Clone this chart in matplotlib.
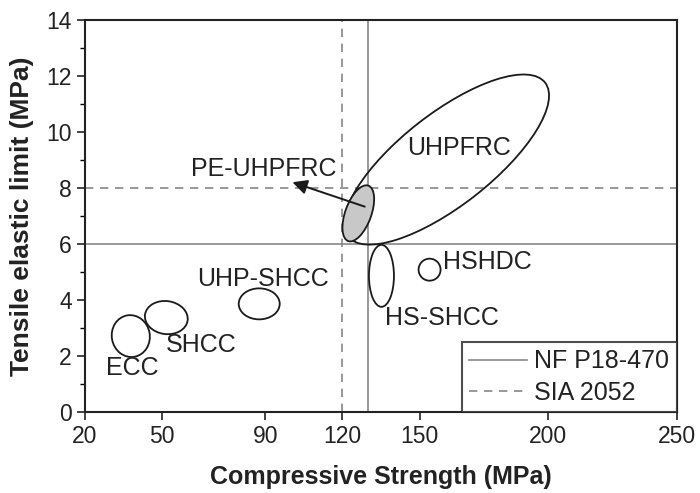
import numpy as np
import matplotlib.pyplot as plt
from matplotlib.patches import Ellipse
from matplotlib.transforms import ScaledTranslation

plt.rcParams['font.family'] = ['Liberation Sans', 'DejaVu Sans']

# material groups: centre of each region (compressive MPa, tensile MPa)
groups = ['UHPFRC', 'PE-UHPFRC', 'HS-SHCC', 'HSHDC', 'UHP-SHCC', 'SHCC', 'ECC']
comp = [160.5, 126.2, 135.2, 153.9, 87.7, 51.6, 37.8]
tens = [9.02, 7.10, 4.87, 5.09, 3.87, 3.38, 2.72]

# label positions for each group
label_x = [165.2, 89.5, 158.6, 159.1, 89.3, 65.0, 38.2]
label_y = [9.45, 8.69, 3.37, 5.35, 4.76, 2.40, 1.58]

# code limits
nf_limit_x, nf_limit_y = 130, 6
sia_limit_x, sia_limit_y = 120, 8

xticks = [20, 50, 90, 120, 150, 200, 250]

# ellipse drawing sizes (px) and angle
ell_w = [250, 59, 25, 22, 41, 43, 38]
ell_h = [92, 26, 62, 22, 31, 33, 42]
ell_ang = [38, 70, 0, 0, 0, -8, 10]
ell_fill = ['none', '#c8c8c8', 'none', 'none', 'none', 'none', 'none']

fig = plt.figure(figsize=(7, 4.93), dpi=100)
ax = fig.add_axes([0.1214, 0.1637, 0.967 - 0.1214, 0.9594 - 0.1637])

ax.axvline(nf_limit_x, color='#888888', lw=1.2, zorder=1, label='NF P18-470')
ax.axhline(nf_limit_y, color='#888888', lw=1.2, zorder=1)
ax.axvline(sia_limit_x, color='#888888', lw=1.2, ls=(0, (5, 4)), zorder=1, label='SIA 2052')
ax.axhline(sia_limit_y, color='#888888', lw=1.2, ls=(0, (5, 4)), zorder=1)

for i in range(len(groups)):
    tr = fig.dpi_scale_trans + ScaledTranslation(comp[i], tens[i], ax.transData)
    e = Ellipse((0, 0), ell_w[i] / 100, ell_h[i] / 100, angle=ell_ang[i],
                transform=tr, facecolor=ell_fill[i], edgecolor='#1a1a1a',
                lw=1.3, zorder=3 if i else 2)
    ax.add_patch(e)
    ha = 'left' if groups[i] == 'HSHDC' else 'center'
    ax.text(label_x[i], label_y[i], groups[i], fontsize=18, color='#222222',
            ha=ha, va='center', zorder=4)

# arrow from PE-UHPFRC region to its label
ax.annotate('', xy=(100.6, 8.21), xytext=(128.7, 7.34),
            arrowprops=dict(arrowstyle='-|>', color='#1a1a1a', lw=1.4,
                            mutation_scale=22, shrinkA=0, shrinkB=0), zorder=5)

ax.set_xlim(20, 250)
ax.set_ylim(0, 14)
ax.set_xticks(xticks)
ax.set_yticks(np.arange(0, 15, 2))
ax.set_yticks(np.arange(1, 14, 2), minor=True)
ax.tick_params(axis='both', which='major', labelsize=16.5, length=6, width=1.2,
               direction='out', colors='#222222')
ax.tick_params(axis='y', which='minor', length=3.5, width=1.0, direction='out')
for s in ax.spines.values():
    s.set_linewidth(1.5)
    s.set_color('#222222')

ax.set_xlabel('Compressive Strength (MPa)', fontsize=18, fontweight='bold',
              labelpad=12, color='#222222')
ax.set_ylabel('Tensile elastic limit (MPa)', fontsize=19, fontweight='bold',
              labelpad=9, color='#222222')

leg = ax.legend(loc='lower right', fontsize=18, frameon=True, fancybox=False,
                edgecolor='#222222', borderaxespad=0, handlelength=2.3,
                handletextpad=0.3, labelspacing=0.3, borderpad=0.3)
leg.get_frame().set_linewidth(1.5)
for t in leg.get_texts():
    t.set_color('#222222')

fig.savefig('out.png', dpi=100)
plt.close()
